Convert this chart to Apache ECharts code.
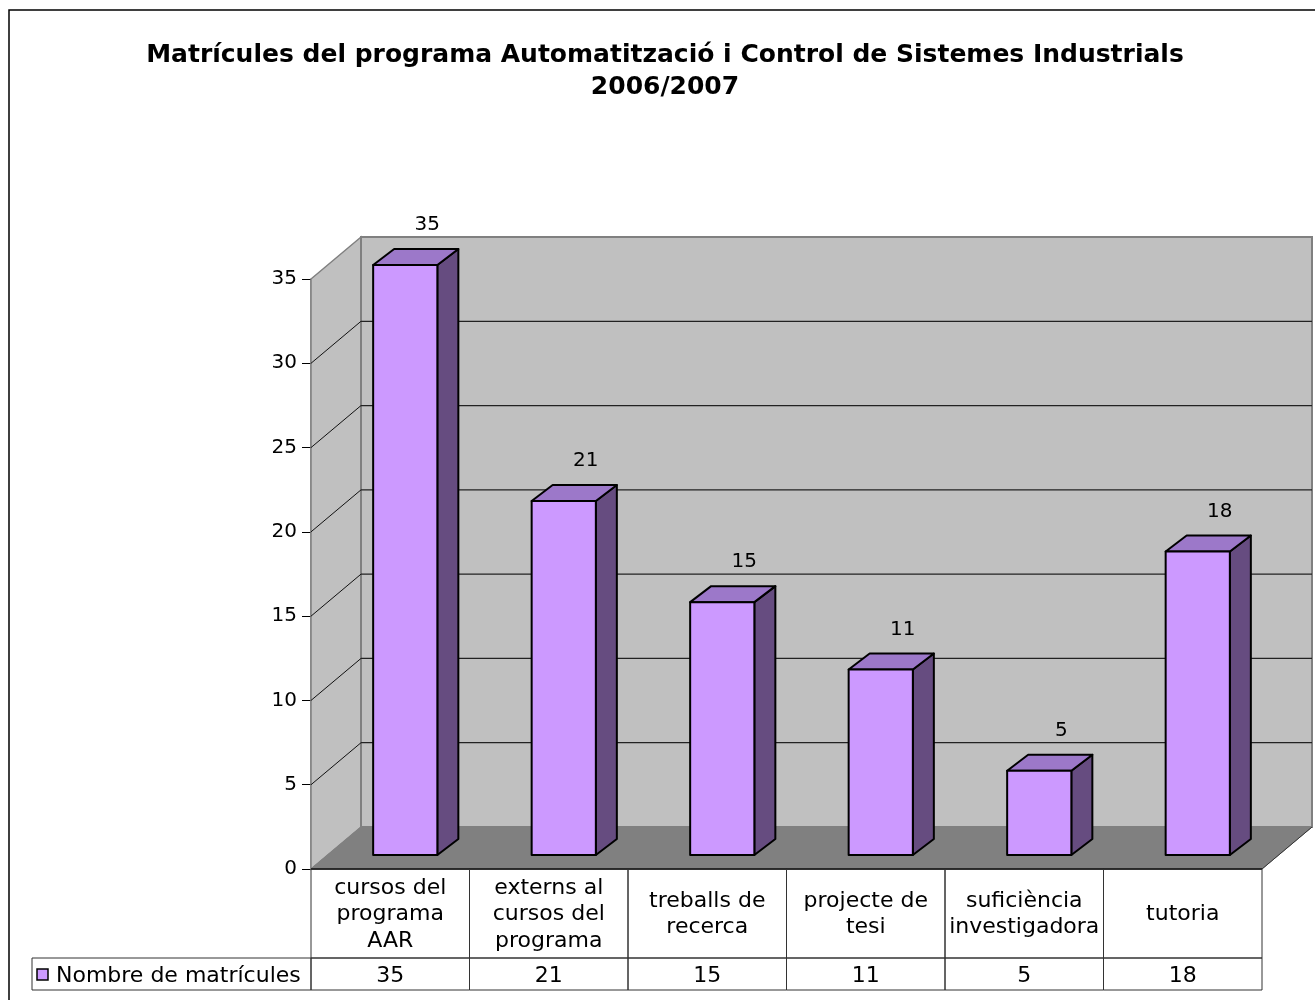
<!doctype html>
<html>
<head>
<meta charset="utf-8">
<title>Matrícules 2006/2007</title>
<script src="https://cdn.jsdelivr.net/npm/echarts@6/dist/echarts.min.js"></script>
<style>
  html, body { margin: 0; padding: 0; background: #fff; }
  #chart { width: 1315px; height: 1000px; }
</style>
</head>
<body>
<div id="chart"></div>
<script>
// dades del grafic
var titleText = 'Matrícules del programa Automatització i Control de Sistemes Industrials\n2006/2007';
var categories = ['cursos del\nprograma\nAAR', 'externs al\ncursos del\nprograma', 'treballs de\nrecerca', 'projecte de\ntesi', 'suficiència\ninvestigadora', 'tutoria'];
var values = [35, 21, 15, 11, 5, 18];
var seriesName = 'Nombre de matrícules';
var yTicks = [0, 5, 10, 15, 20, 25, 30, 35];

// perspectiva 3D (estil Excel)
var DX = 50, DY = -42;          // profunditat de les parets
var FX = 15, FY = -14;          // cara frontal de les barres
var BX = 21, BY = -16;          // gruix de les barres
var FONT = 'DejaVu Sans, Verdana, sans-serif';
var ROW1 = 89, ROW2 = 32;       // alçades de les files de la taula
var LINE = '#333';

var chart = echarts.init(document.getElementById('chart'));

function renderFrame(params, api) {
  var cs = params.coordSys;
  var x0 = cs.x, y0 = cs.y, x1 = cs.x + cs.width, yb = cs.y + cs.height;
  var kids = [];
  // paret esquerra, paret del fons, terra
  kids.push({ type: 'polygon', shape: { points: [[x0, y0], [x0 + DX, y0 + DY], [x0 + DX, yb + DY], [x0, yb]] },
    style: { fill: '#c0c0c0', stroke: '#808080', lineWidth: 1.5 } });
  kids.push({ type: 'rect', shape: { x: x0 + DX, y: y0 + DY, width: cs.width, height: cs.height },
    style: { fill: '#c0c0c0', stroke: '#808080', lineWidth: 2 } });
  kids.push({ type: 'polygon', shape: { points: [[x0, yb], [x0 + DX, yb + DY], [x1 + DX, yb + DY], [x1, yb]] },
    style: { fill: '#808080', stroke: '#808080', lineWidth: 1 } });
  // linies de quadricula
  for (var i = 1; i < yTicks.length - 1; i++) {
    var y = api.coord([0, yTicks[i]])[1];
    kids.push({ type: 'line', shape: { x1: x0 + DX, y1: y + DY, x2: x1 + DX, y2: y + DY }, style: { stroke: '#222', lineWidth: 1.2 } });
    kids.push({ type: 'line', shape: { x1: x0, y1: y, x2: x0 + DX, y2: y + DY }, style: { stroke: '#111', lineWidth: 1 } });
  }
  // vora frontal del terra
  kids.push({ type: 'line', shape: { x1: x0, y1: yb, x2: x1, y2: yb }, style: { stroke: '#000', lineWidth: 1.5 } });
  kids.push({ type: 'line', shape: { x1: x1, y1: yb, x2: x1 + DX, y2: yb + DY }, style: { stroke: '#333', lineWidth: 1 } });
  // capcalera de la taula (llegenda)
  var hx = 32;
  kids.push({ type: 'rect', shape: { x: hx, y: yb + ROW1, width: x0 - hx, height: ROW2 },
    style: { fill: 'none', stroke: LINE, lineWidth: 1 } });
  kids.push({ type: 'rect', shape: { x: 37, y: yb + ROW1 + 11, width: 11, height: 11 },
    style: { fill: '#cc99ff', stroke: '#000', lineWidth: 1.5 } });
  kids.push({ type: 'text', x: 56, y: yb + ROW1 + ROW2 / 2 + 2,
    style: { text: seriesName, font: '22px ' + FONT, fill: '#000', verticalAlign: 'middle', align: 'left' } });
  return { type: 'group', children: kids };
}

function renderBar(params, api) {
  var idx = api.value(0);
  var top = api.coord([idx, api.value(1)]);
  var base = api.coord([idx, 0]);
  var bw = api.size([1, 0])[0] * 0.405;
  var xl = top[0] - bw / 2 + FX, xr = xl + bw;
  var yt = top[1] + FY, yb = base[1] + FY;
  var st = { stroke: '#000', lineWidth: 2, lineJoin: 'round' };
  return { type: 'group', children: [
    { type: 'polygon', shape: { points: [[xr, yt], [xr + BX, yt + BY], [xr + BX, yb + BY], [xr, yb]] },
      style: Object.assign({ fill: '#664c80' }, st) },
    { type: 'polygon', shape: { points: [[xl, yt], [xl + BX, yt + BY], [xr + BX, yt + BY], [xr, yt]] },
      style: Object.assign({ fill: '#9c78c9' }, st) },
    { type: 'rect', shape: { x: xl, y: yt, width: bw, height: yb - yt },
      style: Object.assign({ fill: '#cc99ff' }, st) },
    { type: 'text', x: (xl + xr) / 2 + BX + 1, y: yt + BY - 24,
      style: { text: String(api.value(1)), font: '20px ' + FONT, fill: '#000', align: 'center', verticalAlign: 'middle' } }
  ] };
}

function renderTable(params, api) {
  var idx = api.value(0);
  var c = api.coord([idx, 0]);
  var w = api.size([1, 0])[0];
  var x = c[0] - w / 2, y = c[1];
  return { type: 'group', children: [
    { type: 'rect', shape: { x: x, y: y, width: w, height: ROW1 }, style: { fill: 'none', stroke: LINE, lineWidth: 1 } },
    { type: 'rect', shape: { x: x, y: y + ROW1, width: w, height: ROW2 }, style: { fill: 'none', stroke: LINE, lineWidth: 1 } },
    { type: 'text', x: c[0], y: y + ROW1 / 2 + 1,
      style: { text: categories[idx], font: '22px ' + FONT, lineHeight: 26.5, fill: '#000', align: 'center', verticalAlign: 'middle' } },
    { type: 'text', x: c[0], y: y + ROW1 + ROW2 / 2 + 2,
      style: { text: String(api.value(1)), font: '22px ' + FONT, fill: '#000', align: 'center', verticalAlign: 'middle' } }
  ] };
}

var option = {
  animation: false,
  backgroundColor: '#fff',
  graphic: [
    { type: 'rect', shape: { x: 9, y: 10, width: 1400, height: 1100 }, style: { fill: 'none', stroke: '#000', lineWidth: 1.5 }, z: 0 },
    { type: 'text', x: 665, y: 71, style: { text: titleText, font: 'bold 25px ' + FONT, lineHeight: 32, fill: '#000', align: 'center', verticalAlign: 'middle' } }
  ],
  grid: { left: 311, right: 53, top: 279, bottom: 131 },
  xAxis: {
    type: 'category', data: categories,
    axisLine: { show: false }, axisTick: { show: false }, axisLabel: { show: false }, splitLine: { show: false }
  },
  yAxis: {
    type: 'value', min: 0, max: 35, interval: 5,
    axisLine: { show: true, lineStyle: { color: '#808080', width: 1.5 } },
    axisTick: { show: true, length: 9, lineStyle: { color: '#000', width: 1 } },
    axisLabel: { margin: 14, color: '#000', fontSize: 20, fontFamily: FONT },
    splitLine: { show: false }
  },
  series: [
    { type: 'custom', name: 'frame', data: [[0, 0]], renderItem: renderFrame, z: 1, silent: true },
    { type: 'custom', name: seriesName, data: values.map(function (v, i) { return [i, v]; }), renderItem: renderBar, z: 3 },
    { type: 'custom', name: 'table', data: values.map(function (v, i) { return [i, v]; }), renderItem: renderTable, z: 2, silent: true }
  ]
};
chart.setOption(option);
</script>
</body>
</html>
